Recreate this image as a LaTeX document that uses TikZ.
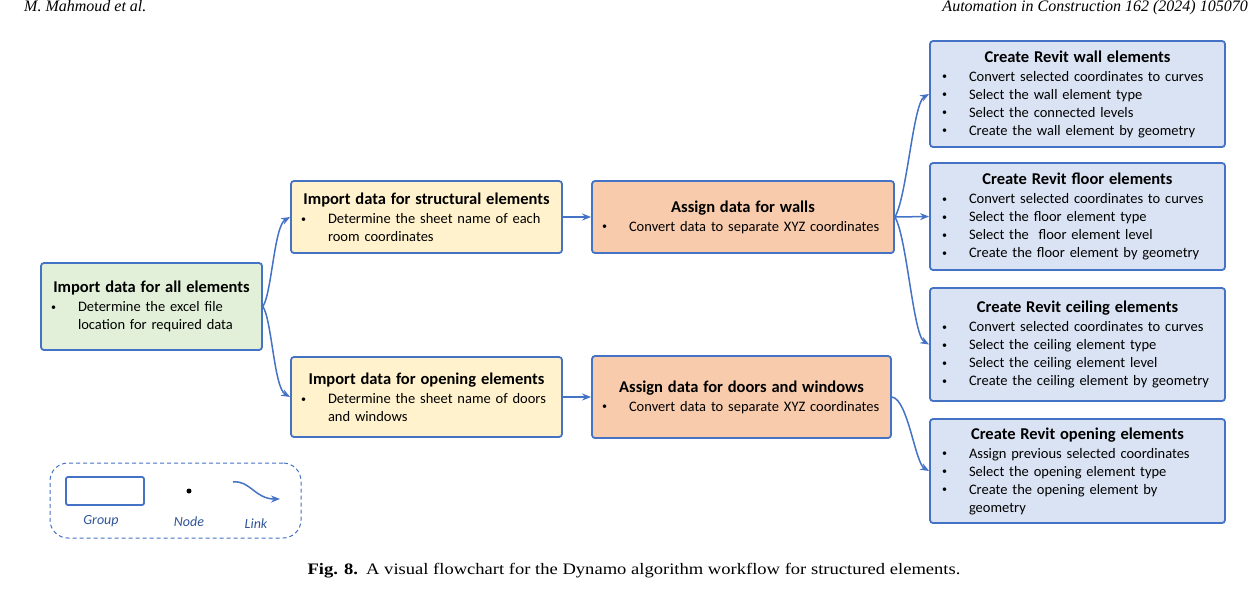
\documentclass[tikz,border=0pt]{standalone}
\usepackage{fontspec}
\setmainfont{Carlito}
\newfontfamily\capfont{Liberation Serif}
\usetikzlibrary{arrows.meta,calc}
\definecolor{bord}{HTML}{4472C4}
\definecolor{gfill}{HTML}{E2F0D9}
\definecolor{yfill}{HTML}{FFF2CC}
\definecolor{ofill}{HTML}{F8CBAD}
\definecolor{bfill}{HTML}{DAE3F3}
\definecolor{legtext}{HTML}{2F5597}
\newlength{\bulind}
\setlength{\bulind}{8pt}
\newcommand{\boxtitle}[1]{\makebox[\linewidth]{\bfseries\fontsize{16.5}{18}\selectfont #1}}
\newcommand{\bitem}[1]{\hspace*{\bulind}\makebox[27pt][l]{\raisebox{1.2pt}{\fontsize{10}{10}\selectfont\textbullet}}#1}
\newcommand{\bcont}[1]{\hspace*{\bulind}\hspace*{27pt}#1}
\begin{document}
\begin{tikzpicture}[x=1pt,y=-1pt,
  box/.style={draw=bord, line width=1.8pt, rounded corners=3pt, inner sep=0pt,
    align=left, font=\fontsize{14.5}{18}\selectfont},
  bluebox/.style={box, fill=bfill, minimum width=295, text width=291,
    execute at begin node={\setlength{\bulind}{10pt}}},
  link/.style={draw=bord, line width=1.5pt, -{Stealth[length=9pt,width=7pt]}},
  legtxt/.style={font=\fontsize{14}{16}\selectfont\itshape, text=legtext, inner sep=0pt},
  hdr/.style={font=\capfont\itshape\fontsize{16}{18}\selectfont, inner sep=0pt}
]
\useasboundingbox (0,0) rectangle (1250,590);

% header
\node[hdr, anchor=base west] (hl) at (24,11) {M. Mahmoud et al.};
\node[hdr, anchor=base east] (hr) at (1248,11) {Automation in Construction 162 (2024) 105070};

% green
\node[box, fill=gfill, minimum width=221, minimum height=87, text width=217] (all) at (151.5,306.5)
 {\boxtitle{Import data for all elements}\\[1pt]
  \bitem{Determine the excel file}\\
  \bcont{location for required data}};

% yellow
\node[box, fill=yfill, minimum width=271, minimum height=72, text width=267] (sti) at (426.5,217)
 {\boxtitle{Import data for structural elements}\\[1pt]
  \bitem{Determine the sheet name of each}\\
  \bcont{room coordinates}};
\node[box, fill=yfill, minimum width=271, minimum height=80, text width=267] (opi) at (426.5,397)
 {\boxtitle{Import data for opening elements}\\[1pt]
  \bitem{Determine the sheet name of doors}\\
  \bcont{and windows}};

% orange
\node[box, fill=ofill, minimum width=302, minimum height=72, text width=298] (aw) at (743,217)
 {\boxtitle{Assign data for walls}\\[1pt]
  \bitem{Convert data to separate XYZ coordinates}};
\node[box, fill=ofill, minimum width=299, minimum height=82, text width=295] (ad) at (741.5,397)
 {\boxtitle{Assign data for doors and windows}\\[1pt]
  \bitem{Convert data to separate XYZ coordinates}};

% blue
\node[bluebox, minimum height=106] (cw) at (1077.5,94)
 {\boxtitle{Create Revit wall elements}\\[1pt]
  \bitem{Convert selected coordinates to curves}\\
  \bitem{Select the wall element type}\\
  \bitem{Select the connected levels}\\
  \bitem{Create the wall element by geometry}};
\node[bluebox, minimum height=107] (cf) at (1077.5,216.5)
 {\boxtitle{Create Revit floor elements}\\[1pt]
  \bitem{Convert selected coordinates to curves}\\
  \bitem{Select the floor element type}\\
  \bitem{Select the\ \ floor element level}\\
  \bitem{Create the floor element by geometry}};
\node[bluebox, minimum height=113] (cc) at (1077.5,344.5)
 {\boxtitle{Create Revit ceiling elements}\\[1pt]
  \bitem{Convert selected coordinates to curves}\\
  \bitem{Select the ceiling element type}\\
  \bitem{Select the ceiling element level}\\
  \bitem{Create the ceiling element by geometry}};
\node[bluebox, minimum height=104] (co) at (1077.5,471)
 {\boxtitle{Create Revit opening elements}\\[1pt]
  \bitem{Assign previous selected coordinates}\\
  \bitem{Select the opening element type}\\
  \bitem{Create the opening element by}\\
  \bcont{geometry}};

% connectors
\draw[link] (all.east) .. controls ($(all.east)+(9,-14)$) and ($(sti.west)+(-16,9)$) .. (sti.west);
\draw[link] (all.east) .. controls ($(all.east)+(9,14)$) and ($(opi.west)+(-16,-9)$) .. (opi.west);
\draw[link] (sti.east) -- (aw.west);
\draw[link] (opi.east) -- (ad.west);
\draw[link] (aw.east) .. controls ($(aw.east)+(12,-20)$) and ($(cw.west)+(-16,9)$) .. (cw.west);
\draw[link] (aw.east) -- (cf.west);
\draw[link] (aw.east) .. controls ($(aw.east)+(12,20)$) and ($(cc.west)+(-16,-9)$) .. (cc.west);
\draw[link] (ad.east) .. controls ($(ad.east)+(16,2)$) and ($(co.west)+(-14,-8)$) .. (co.west);

% legend
\node[draw=bord, line width=1pt, dash pattern=on 4pt off 3pt, rounded corners=18pt,
  minimum width=251, minimum height=75, inner sep=0pt] (leg) at (175.5,500.5) {};
\node[draw=bord, line width=1.8pt, rounded corners=2pt, fill=white,
  minimum width=78, minimum height=28, inner sep=0pt] (lgrp) at (105,491) {};
\node[circle, fill=black, inner sep=0pt, minimum size=5] (ldot) at (189,491) {};
\coordinate (la) at (233,482);
\coordinate (lb) at (280,499);
\draw[link] (la) .. controls (250,480) and (255,499) .. (lb);
\node[legtxt] (lg1) at (101,521) {Group};
\node[legtxt] (lg2) at (189,522) {Node};
\node[legtxt] (lg3) at (256,524) {Link};

% caption
\node[inner sep=0pt] (cap) at (634,571)
 {\scalebox{1.16}[1]{\capfont\fontsize{16}{18}\selectfont\textbf{Fig. 8.}\hspace{7pt}A visual flowchart for the Dynamo algorithm workflow for structured elements.}};
\end{tikzpicture}
\end{document}
